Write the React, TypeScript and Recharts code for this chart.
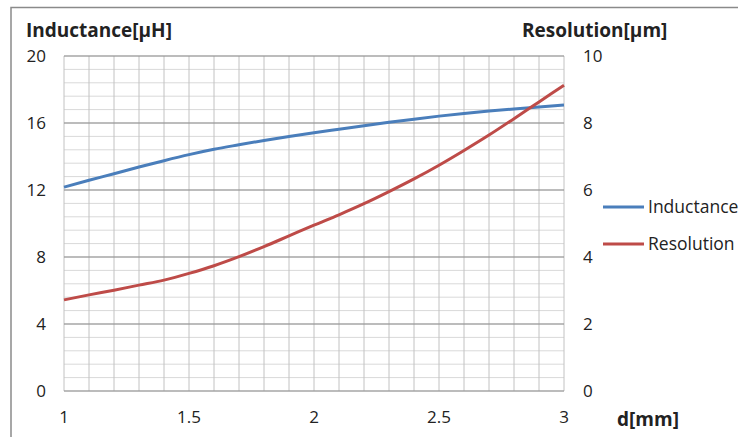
import React from 'react'
import { LineChart, Line, XAxis, YAxis, CartesianGrid, Legend } from 'recharts'

// d in mm
const dValues = [1, 1.1, 1.2, 1.3, 1.4, 1.5, 1.6, 1.7, 1.8, 1.9, 2, 2.1, 2.2, 2.3, 2.4, 2.5, 2.6, 2.7, 2.8, 2.9, 3]
// inductance in uH (left axis)
const inductance = [12.17, 12.58, 12.97, 13.37, 13.75, 14.11, 14.43, 14.7, 14.96, 15.2, 15.42, 15.63, 15.84, 16.04, 16.23, 16.41, 16.57, 16.71, 16.84, 16.96, 17.07]
// resolution in um (right axis)
const resolution = [2.72, 2.87, 3.01, 3.16, 3.31, 3.51, 3.74, 4.01, 4.31, 4.63, 4.95, 5.26, 5.59, 5.95, 6.33, 6.74, 7.18, 7.64, 8.13, 8.63, 9.13]

const xTicks = [1, 1.5, 2, 2.5, 3]
const xMinorTicks = [1, 1.1, 1.2, 1.3, 1.4, 1.5, 1.6, 1.7, 1.8, 1.9, 2, 2.1, 2.2, 2.3, 2.4, 2.5, 2.6, 2.7, 2.8, 2.9, 3]
const leftTicks = [0, 4, 8, 12, 16, 20]
const leftMinorTicks = [0, 0.8, 1.6, 2.4, 3.2, 4, 4.8, 5.6, 6.4, 7.2, 8, 8.8, 9.6, 10.4, 11.2, 12, 12.8, 13.6, 14.4, 15.2, 16, 16.8, 17.6, 18.4, 19.2, 20]
const rightTicks = [0, 2, 4, 6, 8, 10]

const data = dValues.map((d, i) => ({
  d,
  inductance: inductance[i],
  resolution: resolution[i],
}))

const textColor = '#222'
const tickStyle = { fontSize: 17, fill: textColor }

function LegendBox({ payload }: any) {
  return (
    <svg width={140} height={60} style={{ overflow: 'visible' }}>
      {(payload || []).map((p: any, i: number) => (
        <g key={p.value}>
          <line x1={3} x2={44} y1={15 + 37 * i} y2={15 + 37 * i} stroke={p.color} strokeWidth={3} />
          <text x={48} y={15 + 37 * i} dy="0.35em" fontSize={17.5} fill={textColor}>
            {p.value}
          </text>
        </g>
      ))}
    </svg>
  )
}

export default function App() {
  return (
    <div style={{ position: 'absolute', left: 0, top: 0, fontFamily: '"Open Sans", sans-serif' }}>
      <LineChart width={738} height={437} data={data} margin={{ top: 56, right: 114, bottom: 0, left: 0 }}>
        <rect x={11} y={7.5} width={900} height={600} fill="none" stroke="#8a8a8a" strokeWidth={1.5} />

        <XAxis xAxisId="minor" type="number" dataKey="d" domain={[1, 3]} ticks={xMinorTicks} interval={0} allowDataOverflow hide />
        <YAxis yAxisId="minor" type="number" domain={[0, 20]} ticks={leftMinorTicks} interval={0} allowDataOverflow hide />

        <CartesianGrid xAxisId="minor" yAxisId="minor" vertical={false} stroke="#d9d9d9" />
        <CartesianGrid xAxisId="minor" yAxisId="minor" horizontal={false} stroke="#c2c2c2" />
        <CartesianGrid yAxisId="left" vertical={false} stroke="#8c8c8c" />

        <XAxis
          dataKey="d"
          type="number"
          domain={[1, 3]}
          ticks={xTicks}
          interval={0}
          height={46}
          axisLine={false}
          tickLine={false}
          tickSize={0}
          tickMargin={20}
          tick={tickStyle}
        />
        <YAxis
          yAxisId="left"
          domain={[0, 20]}
          ticks={leftTicks}
          interval={0}
          width={64}
          axisLine={false}
          tickLine={false}
          tickSize={0}
          tickMargin={18}
          tick={tickStyle}
        />
        <YAxis
          yAxisId="right"
          orientation="right"
          domain={[0, 10]}
          ticks={rightTicks}
          interval={0}
          width={60}
          axisLine={false}
          tickLine={false}
          tickSize={0}
          tickMargin={19}
          tick={{ ...tickStyle, textAnchor: 'start' }}
        />

        <Line
          yAxisId="left"
          type="monotone"
          dataKey="inductance"
          name="Inductance"
          stroke="#4a7ebb"
          strokeWidth={3}
          dot={false}
          isAnimationActive={false}
        />
        <Line
          yAxisId="right"
          type="monotone"
          dataKey="resolution"
          name="Resolution"
          stroke="#be4b48"
          strokeWidth={3}
          dot={false}
          isAnimationActive={false}
        />

        <Legend
          layout="vertical"
          align="center"
          verticalAlign="middle"
          content={<LegendBox />}
          wrapperStyle={{ left: 600, top: 192, width: 140, height: 60 }}
        />

        <text x={26} y={37} fontSize={19} fontWeight="bold" fill={textColor}>
          Inductance[μH]
        </text>
        <text x={522} y={37} fontSize={19} fontWeight="bold" fill={textColor}>
          Resolution[μm]
        </text>
        <text x={617} y={426} fontSize={19} fontWeight="bold" fill={textColor}>
          d[mm]
        </text>
      </LineChart>
    </div>
  )
}
